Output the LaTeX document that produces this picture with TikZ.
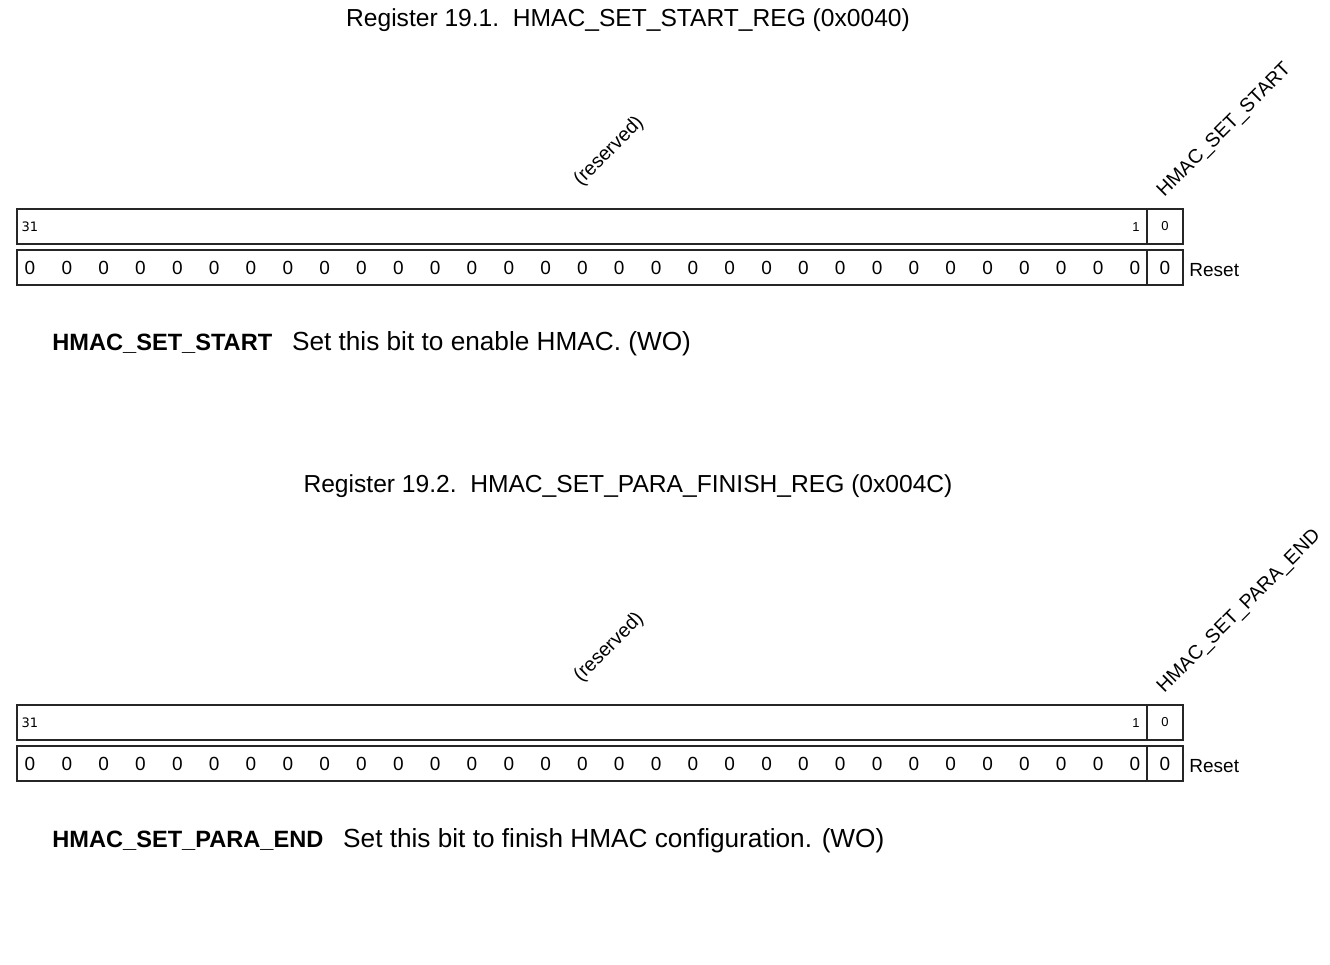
\documentclass[tikz,border=0pt]{standalone}
\usepackage{fontspec}
\setmainfont{Liberation Sans}
\newfontfamily\numfont{DejaVu Sans}
\usetikzlibrary{positioning}

\begin{document}
\begin{tikzpicture}[x=0.5pt, y=-0.5pt,
	field/.style={draw=black!85, line width=0.65pt, inner sep=0pt, minimum height=17.5pt},
	bitnum/.style={font=\fontsize{6.5}{7}\selectfont, inner sep=0pt},
	rstval/.style={font=\fontsize{9.5}{11}\selectfont, inner sep=0pt},
	fieldname/.style={font=\fontsize{9.8}{11}\selectfont, rotate=45, inner sep=0pt},
	regtitle/.style={font=\fontsize{12.3}{14}\selectfont, inner sep=0pt},
	descname/.style={font=\bfseries\fontsize{11.8}{14}\selectfont, inner sep=0pt, anchor=base west},
	desctext/.style={font=\fontsize{13.1}{15}\selectfont, inner sep=0pt}]
	\useasboundingbox (0,0) rectangle (1330,965);

	% Register 19.1
	\node[regtitle] (t1) at (628,20) {Register 19.1.\ \ HMAC\_SET\_START\_REG (0x0040)};
	\node[field, minimum width=565pt] (r1-res) at (582,226.5) {};
	\node[field, minimum width=18pt] (r1-b0) at (1165,226.5) {};
	\node[field, minimum width=565pt] (r1-rst) at (582,267.5) {};
	\node[field, minimum width=18pt] (r1-rst0) at (1165,267.5) {};
	\node[bitnum, font=\numfont\fontsize{6.5}{7}\selectfont] (r1-n31) at (30,227) {31};
	\node[bitnum] (r1-n1) at (1136,227) {1};
	\node[bitnum] (r1-n0) at (r1-b0) {0};
	\foreach \i in {0,...,30}
		\node[rstval] (r1-z\i) at ({30+\i*36.83},268) {0};
	\node[rstval] (r1-z31) at (r1-rst0) {0};
	\node[rstval, anchor=west] (r1-lbl) at (1189,270) {Reset};
	\node[fieldname, anchor=south west] (r1-fres) at (584,190) {(reserved)};
	\node[fieldname, anchor=base west] (r1-fb0) at (1164,198) {HMAC\_SET\_START};
	\node[descname] (d1-name) at (52,350) {HMAC\_SET\_START};
	\node[desctext, base right=9.5pt of d1-name] (d1-text) {Set this bit to enable HMAC. (WO)};

	% Register 19.2
	\node[regtitle] (t2) at (628,486) {Register 19.2.\ \ HMAC\_SET\_PARA\_FINISH\_REG (0x004C)};
	\node[field, minimum width=565pt] (r2-res) at (582,722.5) {};
	\node[field, minimum width=18pt] (r2-b0) at (1165,722.5) {};
	\node[field, minimum width=565pt] (r2-rst) at (582,763.5) {};
	\node[field, minimum width=18pt] (r2-rst0) at (1165,763.5) {};
	\node[bitnum, font=\numfont\fontsize{6.5}{7}\selectfont] (r2-n31) at (30,723) {31};
	\node[bitnum] (r2-n1) at (1136,723) {1};
	\node[bitnum] (r2-n0) at (r2-b0) {0};
	\foreach \i in {0,...,30}
		\node[rstval] (r2-z\i) at ({30+\i*36.83},764) {0};
	\node[rstval] (r2-z31) at (r2-rst0) {0};
	\node[rstval, anchor=west] (r2-lbl) at (1189,766) {Reset};
	\node[fieldname, anchor=south west] (r2-fres) at (584,686) {(reserved)};
	\node[fieldname, anchor=base west] (r2-fb0) at (1164,694) {HMAC\_SET\_PARA\_END};
	\node[descname] (d2-name) at (52,847) {HMAC\_SET\_PARA\_END};
	\node[desctext, base right=9.5pt of d2-name] (d2-text) {Set this bit to finish HMAC configuration. (WO)};
\end{tikzpicture}
\end{document}
